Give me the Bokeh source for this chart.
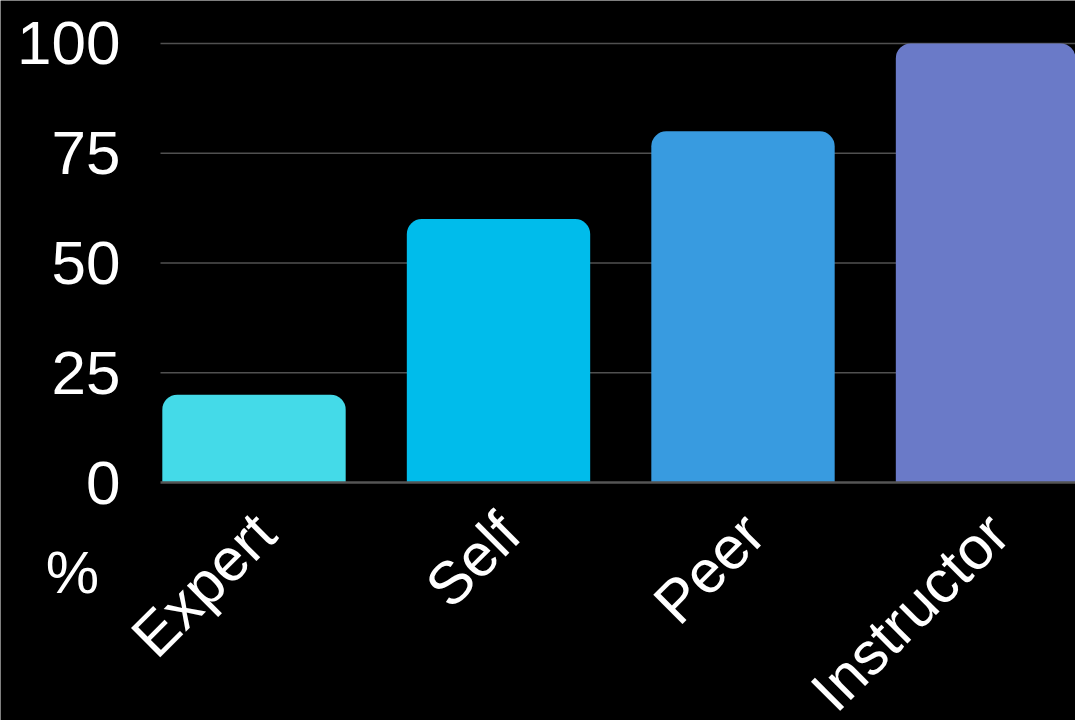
import math
from bokeh.plotting import figure
from bokeh.models import Range1d, FixedTicker, Label, LinearAxis
from bokeh.embed import file_html
from bokeh.resources import INLINE

categories = ["Expert", "Self", "Peer", "Instructor"]
values = [20, 60, 80, 100]
colors = ["#44DAE8", "#00BCEB", "#389BE0", "#6A7AC8"]
y_ticks = [0, 25, 50, 75, 100]
y_unit = "%"

xs = list(range(len(categories)))

W, H = 1075, 720
# visible ranges (whole canvas is the plotting frame)
XL, XR = -1.0368, 3.3599
YB, YT = -54.21, 109.79
X0 = -0.3824          # left edge of the plotting area (y axis position)
SHIFT = 0.045         # nudge of the category labels

p = figure(width=W, height=H, output_backend="svg", toolbar_location=None,
           x_range=Range1d(XL, XR), y_range=Range1d(YB, YT),
           x_axis_location=None, y_axis_location=None,
           min_border=0, min_border_left=0, min_border_right=0,
           min_border_top=0, min_border_bottom=0)
p.extra_x_ranges = {"lbl": Range1d(XL - SHIFT, XR - SHIFT)}

p.background_fill_color = "#000000"
p.border_fill_color = "#000000"
p.outline_line_color = None
for g in p.grid:
    g.visible = False

# grid lines
p.segment(x0=X0, y0=y_ticks[1:], x1=XR, y1=y_ticks[1:],
          line_color="#505050", line_width=1.5)

p.vbar(x=xs, top=values, width=0.75, fill_color=colors, line_color=None,
       border_radius=(15, 15, 0, 0))

# baseline (x axis line)
p.segment(x0=X0, y0=0, x1=XR, y1=0, line_color="#555555", line_width=2.5)

yaxis = LinearAxis(fixed_location=X0, ticker=FixedTicker(ticks=y_ticks))
yaxis.axis_line_color = None
yaxis.major_tick_line_color = None
yaxis.minor_tick_line_color = None
yaxis.major_label_text_color = "#ffffff"
yaxis.major_label_text_font = "Liberation Sans"
yaxis.major_label_text_font_size = "62px"
yaxis.major_label_standoff = 34
p.add_layout(yaxis, "left")

xaxis = LinearAxis(x_range_name="lbl", fixed_location=0, ticker=FixedTicker(ticks=xs),
                   major_label_overrides={x: c for x, c in zip(xs, categories)})
xaxis.axis_line_color = None
xaxis.major_tick_line_color = None
xaxis.minor_tick_line_color = None
xaxis.major_label_text_color = "#ffffff"
xaxis.major_label_text_font = "Liberation Sans"
xaxis.major_label_text_font_size = "60px"
xaxis.major_label_orientation = math.pi / 4
xaxis.major_label_standoff = 35
p.add_layout(xaxis, "below")

lbl = Label(x=72, y=148, x_units="screen", y_units="screen", text=y_unit,
            text_color="#ffffff", text_font="Liberation Sans", text_font_size="60px",
            text_align="center", text_baseline="middle")
p.add_layout(lbl)

html = file_html(p, INLINE)
html = html.replace("<body>", '<body style="margin:0;background:#000000;overflow:hidden;">', 1)
open("out.html", "w").write(html)
